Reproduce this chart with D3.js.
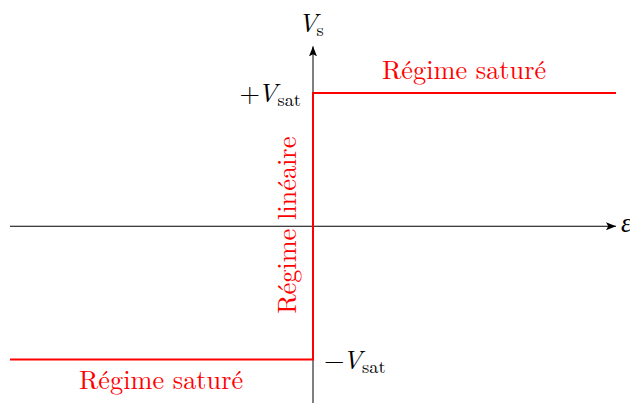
<!DOCTYPE html>
<html>
<head>
<meta charset="utf-8">
<script src="https://cdn.jsdelivr.net/npm/d3@7/dist/d3.min.js"></script>
<style>
  html, body { margin: 0; padding: 0; background: #fff; }
  svg { display: block; }
</style>
</head>
<body>
<svg id="chart" width="630" height="403"></svg>
<script>
// Transfer characteristic of an ideal comparator: Vs against ε
const epsilon = [-1, 0, 0, 1];          // input differential voltage (normalised)
const vsOut   = [-1, -1, 1, 1];         // output voltage in units of Vsat
const satLevels = [1, -1];              // +Vsat and -Vsat
const satNames  = ["+", "\u2212"];
const regimeLabels = ["Régime saturé", "Régime linéaire", "Régime saturé"];

const W = 630, H = 403;
const FONT = "'Latin Modern Roman', 'Liberation Serif', serif";
const svg = d3.select("#chart").attr("font-family", FONT);

const x = d3.scaleLinear().domain([-1, 1]).range([10, 616]);
const y = d3.scaleLinear().domain([-1, 1]).range([359.5, 93]);

const red = "#ff0000";
const FS = 26.3, SUB = 18.4;

// Arrow heads
const defs = svg.append("defs");
defs.append("marker")
  .attr("id", "arrow")
  .attr("viewBox", "0 0 10 8")
  .attr("refX", 10).attr("refY", 4)
  .attr("markerWidth", 10).attr("markerHeight", 8)
  .attr("markerUnits", "userSpaceOnUse")
  .attr("orient", "auto")
  .append("path")
  .attr("d", "M0,0 L10,4 L0,8 L2.2,4 Z")
  .attr("fill", "#000");

// Axes
svg.append("line")
  .attr("x1", x(-1)).attr("x2", x(1))
  .attr("y1", y(0)).attr("y2", y(0))
  .attr("stroke", "#000").attr("stroke-width", 1)
  .attr("marker-end", "url(#arrow)");

svg.append("line")
  .attr("x1", x(0)).attr("x2", x(0))
  .attr("y1", H).attr("y2", y(1.35))
  .attr("stroke", "#000").attr("stroke-width", 1)
  .attr("marker-end", "url(#arrow)");

// Characteristic curve
const line = d3.line()
  .x((d, i) => x(epsilon[i]))
  .y(d => y(d));

svg.append("path")
  .datum(vsOut)
  .attr("d", line)
  .attr("fill", "none")
  .attr("stroke", red)
  .attr("stroke-width", 2)
  .attr("stroke-linejoin", "miter");

// Axis labels
const vs = svg.append("text")
  .attr("x", 298).attr("y", 32)
  .attr("font-size", FS);
vs.append("tspan").attr("font-style", "italic").text("V");
vs.append("tspan").attr("font-size", SUB).attr("dy", 4).attr("dx", -1).text("s");

svg.append("text")
  .attr("x", 621).attr("y", 232)
  .attr("font-size", FS)
  .attr("font-style", "italic")
  .text("\u03b5");

// Saturation level labels
satLevels.forEach((v, i) => {
  const t = svg.append("text")
    .attr("font-size", FS)
    .attr("y", y(v) + 9);
  if (v > 0) {
    t.attr("x", x(0) - 12).attr("text-anchor", "end");
  } else {
    t.attr("x", x(0) + 11).attr("text-anchor", "start");
  }
  t.append("tspan").text(satNames[i]);
  t.append("tspan").attr("font-style", "italic").attr("dx", -2).text("V");
  t.append("tspan").attr("font-size", SUB).attr("dy", 4).text("sat");
});

// Regime labels
svg.append("text")
  .attr("x", 382).attr("y", 79)
  .attr("font-size", FS)
  .attr("fill", red)
  .text(regimeLabels[0]);

svg.append("text")
  .attr("transform", `translate(296, ${y(0) - 1}) rotate(-90)`)
  .attr("text-anchor", "middle")
  .attr("font-size", FS)
  .attr("fill", red)
  .text(regimeLabels[1]);

svg.append("text")
  .attr("x", 79).attr("y", 389)
  .attr("font-size", FS)
  .attr("fill", red)
  .text(regimeLabels[2]);
</script>
</body>
</html>
